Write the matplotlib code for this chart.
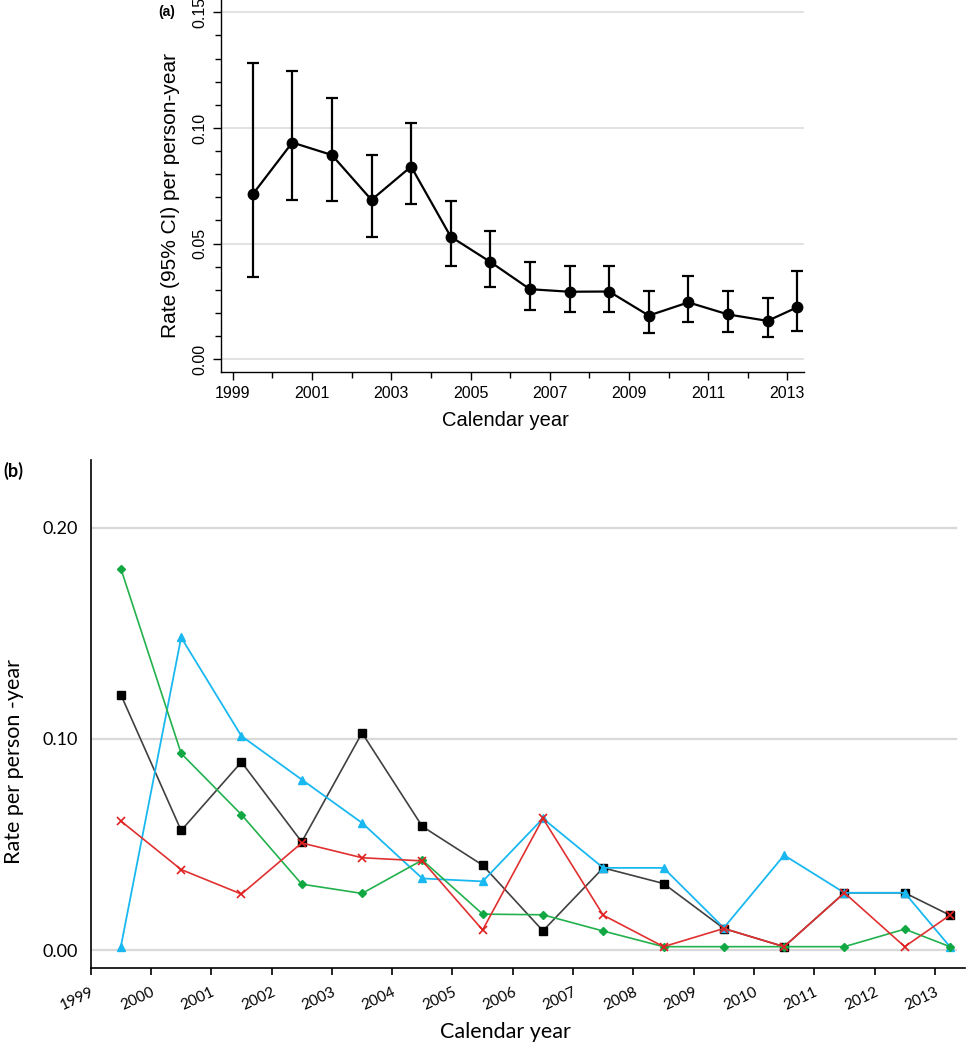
import matplotlib
matplotlib.use("Agg")
import matplotlib.pyplot as plt
from matplotlib.ticker import MultipleLocator, FixedLocator

# ---------------- data ----------------
# Panel (a): overall rate with 95% CI
years_a = [1999.5, 2000.5, 2001.5, 2002.5, 2003.5, 2004.5, 2005.5, 2006.5,
           2007.5, 2008.5, 2009.5, 2010.5, 2011.5, 2012.5, 2013.25]
rate_a = [0.0713, 0.0937, 0.0883, 0.0689, 0.0833, 0.0530, 0.0421, 0.0303,
          0.0292, 0.0293, 0.0189, 0.0246, 0.0194, 0.0166, 0.0225]
upper_a = [0.1280, 0.1246, 0.1128, 0.0882, 0.1022, 0.0684, 0.0553, 0.0419,
           0.0405, 0.0405, 0.0294, 0.0362, 0.0295, 0.0264, 0.0382]
lower_a = [0.0356, 0.0689, 0.0684, 0.0530, 0.0670, 0.0403, 0.0313, 0.0213,
           0.0203, 0.0206, 0.0114, 0.0160, 0.0118, 0.0098, 0.0122]

# Panel (b): four series
years_b = years_a
black_b = [0.1209, 0.0566, 0.0890, 0.0512, 0.1028, 0.0585, 0.0402, 0.0091,
           0.0389, 0.0315, 0.0102, 0.0016, 0.0271, 0.0271, 0.0165]
green_b = [0.1806, 0.0931, 0.0641, 0.0312, 0.0268, 0.0426, 0.0170, 0.0167,
           0.0090, 0.0016, 0.0016, 0.0016, 0.0016, 0.0099, 0.0016]
blue_b = [0.0016, 0.1480, 0.1013, 0.0807, 0.0602, 0.0339, 0.0325, 0.0623,
          0.0389, 0.0389, 0.0105, 0.0449, 0.0271, 0.0271, 0.0016]
red_b = [0.0611, 0.0381, 0.0265, 0.0507, 0.0437, 0.0422, 0.0095, 0.0623,
         0.0165, 0.0016, 0.0102, 0.0016, 0.0271, 0.0016, 0.0165]

xticks_a = list(range(1999, 2014, 2))
xticks_b = list(range(1999, 2014))
yticks_a = [0.00, 0.05, 0.10, 0.15]
yticks_b = [0.00, 0.10, 0.20]

# ---------------- figure ----------------
W, H = 967, 1050
fig = plt.figure(figsize=(W / 100, H / 100), dpi=100)
fig.patch.set_facecolor("white")


def px_axes(l, t, r, b):
    return fig.add_axes([l / W, 1 - b / H, (r - l) / W, (b - t) / H])


# ---------- Panel (a) ----------
fa = ["Liberation Sans", "DejaVu Sans"]
ax = px_axes(221, 0, 804, 371.7)
ax.set_xlim(1998.70, 2013.42)
ax.set_ylim(-0.00536, 0.1553)
for y in yticks_a:
    ax.axhline(y, color="#e2e2e2", lw=1.4, zorder=0)
ax.spines["top"].set_visible(False)
ax.spines["right"].set_visible(False)
ax.spines["left"].set_linewidth(1.0)
ax.spines["bottom"].set_linewidth(1.0)
yerr = [[r - lo for r, lo in zip(rate_a, lower_a)],
        [u - r for r, u in zip(rate_a, upper_a)]]
ax.errorbar(years_a, rate_a, yerr=yerr, color="black", lw=1.6,
            elinewidth=1.6, capsize=4.5, capthick=1.6, marker="o",
            markersize=7.5, zorder=3)
ax.xaxis.set_major_locator(FixedLocator(xticks_a))
ax.xaxis.set_minor_locator(MultipleLocator(1))
ax.yaxis.set_major_locator(FixedLocator(yticks_a))
ax.yaxis.set_minor_locator(MultipleLocator(0.01))
ax.tick_params(axis="both", which="major", length=6, width=1.0,
               labelsize=11.5, direction="out")
ax.tick_params(axis="both", which="minor", length=4, width=1.0,
               direction="out")
ax.set_xticklabels([str(v) for v in xticks_a], fontfamily=fa)
ax.set_yticklabels(["%.2f" % v for v in yticks_a], fontfamily=fa,
                   rotation=90, va="center")
ax.tick_params(axis="x", pad=4)
ax.tick_params(axis="y", pad=4)
fig.text(505 / W, 1 - 421 / H, "Calendar year", ha="center", va="center",
         fontsize=14.5, family=fa)
fig.text(170 / W, 1 - 196 / H, "Rate (95% CI) per person-year", ha="center",
         va="center", rotation=90, fontsize=15, family=fa)
fig.text(167 / W, 1 - 12 / H, "(a)", ha="center", va="center",
         fontsize=10, fontweight="bold", family=fa)

# ---------- Panel (b) ----------
fb = ["Lato", "DejaVu Sans"]
bx = px_axes(90.7, 460, 965, 968)
bx.set_xlim(1999, 2013.5)
bx.set_ylim(-0.0085, 0.232)
for y in yticks_b:
    bx.axhline(y, color="#d9d9d9", lw=1.6, zorder=0, xmax=0.99)
bx.spines["top"].set_visible(False)
bx.spines["right"].set_visible(False)
bx.spines["left"].set_linewidth(1.2)
bx.spines["bottom"].set_linewidth(1.2)

bx.plot(years_b, black_b, color="#404040", lw=1.2, marker="s", ms=6,
        mfc="black", mec="black", zorder=3)
bx.plot(years_b, blue_b, color="#1ab8f0", lw=1.3, marker="^", ms=6,
        mfc="#1ab8f0", mec="#1ab8f0", zorder=4)
bx.plot(years_b, green_b, color="#22b14c", lw=1.2, marker="D", ms=4,
        mfc="#11a844", mec="#11a844", zorder=5)
bx.plot(years_b, red_b, color="#e03030", lw=1.2, marker="x", ms=6,
        mew=1.2, mec="#e02020", zorder=6)

bx.xaxis.set_major_locator(FixedLocator(xticks_b))
bx.yaxis.set_major_locator(FixedLocator(yticks_b))
bx.set_xticklabels([str(v) for v in xticks_b], fontfamily=fb, fontsize=11,
                   rotation=25, ha="right", va="top", rotation_mode="anchor")
bx.set_yticklabels(["%.2f" % v for v in yticks_b], fontfamily=fb,
                   fontsize=13)
bx.tick_params(axis="x", length=5, width=1.2, direction="out", pad=7)
bx.tick_params(axis="y", length=0, pad=9)
fig.text(505 / W, 1 - 1032 / H, "Calendar year", ha="center", va="center",
         fontsize=15.5, family=fb)
fig.text(14 / W, 1 - 762 / H, "Rate per person -year", ha="center",
         va="center", rotation=90, fontsize=15.5, family=fb)
fig.text(13 / W, 1 - 471 / H, "(b)", ha="center", va="center",
         fontsize=13, fontweight="bold", family=fb)

fig.savefig("out.png", dpi=100, facecolor="white")
